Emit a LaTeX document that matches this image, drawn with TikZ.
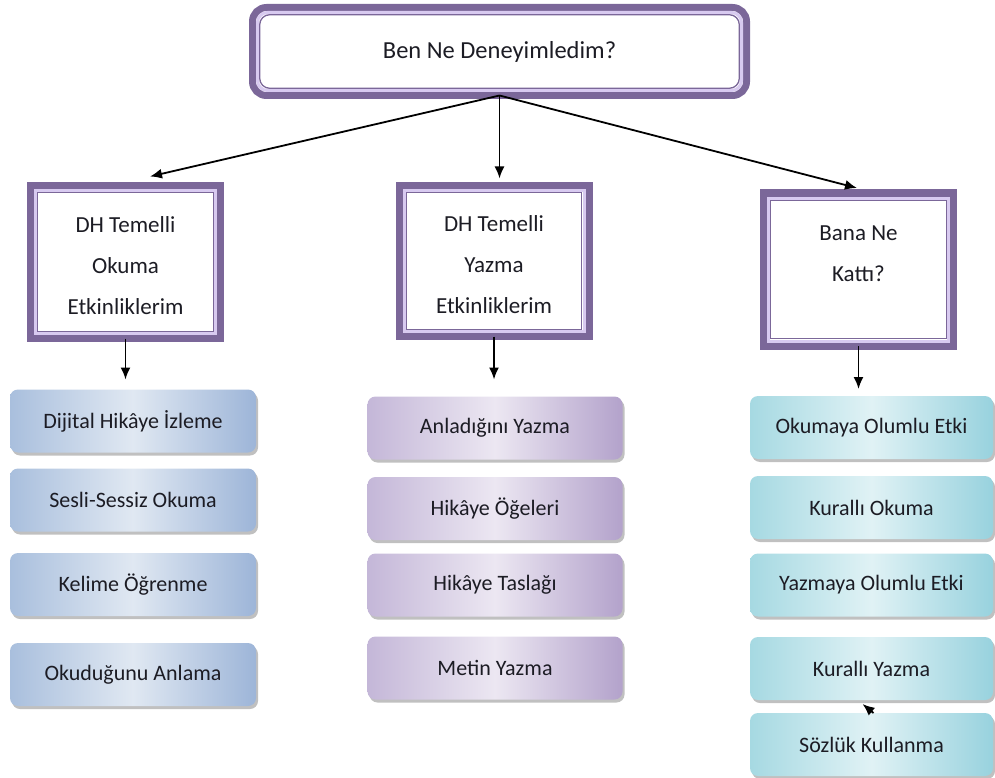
\documentclass[tikz,border=0pt]{standalone}
\usepackage{fontspec}
\setmainfont{Carlito}
\usetikzlibrary{arrows.meta,shadows}

\definecolor{pband}{HTML}{7B6799}
\definecolor{plav}{HTML}{D8CAF0}
\definecolor{txt}{HTML}{1C1C24}
\definecolor{blueA}{HTML}{A9BFDD}
\definecolor{blueB}{HTML}{E0E8F2}
\definecolor{blueC}{HTML}{9DB5D8}
\definecolor{lilaA}{HTML}{C4B7D8}
\definecolor{lilaB}{HTML}{ECE7F2}
\definecolor{lilaC}{HTML}{B3A2CB}
\definecolor{cyanA}{HTML}{A6D9E2}
\definecolor{cyanB}{HTML}{E0F2F5}
\definecolor{cyanC}{HTML}{98D2DE}

% inner lavender band and thin purple line inside a framed box
\newcommand{\insetframe}[2][0pt]{%
  \draw[line width=3, draw=plav, rounded corners=#1]
    ([shift={(5,5)}]#2.north west) rectangle ([shift={(-5,-5)}]#2.south east);
  \draw[line width=1.3, draw=pband, rounded corners=#1]
    ([shift={(7.2,7.2)}]#2.north west) rectangle ([shift={(-7.2,-7.2)}]#2.south east);}

\tikzset{
  framebox/.style={draw=pband, line width=7, fill=white, outer sep=0pt,
    inner sep=0pt, text=txt, align=center},
  headtext/.style={text=txt, align=center, font=\fontsize{23}{41}\selectfont},
  listbox/.style={rounded corners=8, minimum height=63, inner sep=0pt,
    outer sep=0pt, text=txt, font=\fontsize{22}{24}\selectfont,
    drop shadow={shadow xshift=2pt, shadow yshift=-3pt, fill=black!45, opacity=.55}},
  bluebox/.style={listbox, minimum width=246, left color=blueA, right color=blueC, middle color=blueB},
  lilabox/.style={listbox, minimum width=255, left color=lilaA, right color=lilaC, middle color=lilaB},
  cyanbox/.style={listbox, minimum width=243, left color=cyanA, right color=cyanC, middle color=cyanB},
  arr/.style={line width=1.8, black, -{Latex[length=12pt,width=10pt]}}
}

\begin{document}
\begin{tikzpicture}[x=1pt,y=-1pt]
\useasboundingbox (0,0) rectangle (995,778);

% top question
\node[framebox, rounded corners=14, minimum width=494, minimum height=88,
  font=\fontsize{24.5}{28}\selectfont] (top) at (499.5,51.5) {Ben Ne Deneyimledim?};
\insetframe[10pt]{top}

% three branches
\node[framebox, minimum width=190, minimum height=153] (L) at (125.5,262) {};
\insetframe{L}
\node[headtext] (Lt) at (125.5,266) {DH Temelli\\Okuma\\Etkinliklerim};
\node[framebox, minimum width=190, minimum height=151] (M) at (494,261) {};
\insetframe{M}
\node[headtext] (Mt) at (494,265) {DH Temelli\\Yazma\\Etkinliklerim};
\node[framebox, minimum width=190, minimum height=153] (R) at (858.5,269.5) {};
\insetframe{R}
\node[headtext] (Rt) at (858.5,254) {Bana Ne\\Katt\i?};

\draw[arr] (top.south) -- ([shift={(24.5,-9)}]L.north);
\draw[arr, shorten >=7] (top.south) -- (top.south |- M.north);
\draw[arr] (top.south) -- ([shift={(-1.5,-5)}]R.north);

% reading activities
\node[bluebox] (L1) at (133,421) {Dijital Hikâye İzleme};
\node[bluebox] (L2) at (133,500) {Sesli-Sessiz Okuma};
\node[bluebox] (L3) at (133,584.5) {Kelime Öğrenme};
\node[bluebox] (L4) at (133,674.5) {Okuduğunu Anlama};

% writing activities
\node[lilabox] (M1) at (495,428) {Anladığını Yazma};
\node[lilabox] (M2) at (495,508.5) {Hikâye Öğeleri};
\node[lilabox] (M3) at (495,585) {Hikâye Taslağı};
\node[lilabox] (M4) at (495,668) {Metin Yazma};

% gains
\node[cyanbox] (R1) at (871.5,427.5) {Okumaya Olumlu Etki};
\node[cyanbox] (R2) at (871.5,507.5) {Kurallı Okuma};
\node[cyanbox] (R3) at (871.5,585) {Yazmaya Olumlu Etki};
\node[cyanbox] (R4) at (871.5,668.5) {Kurallı Yazma};
\node[cyanbox] (R5) at (871.5,744.5) {Sözlük Kullanma};

\draw[arr, shorten >=10] (L.south) -- (L.south |- L1.north);
\draw[arr, shorten >=17] (M.south) -- (M.south |- M1.north);
\draw[arr, shorten >=7] (R.south) -- (R.south |- R1.north);
\draw[arr] ([xshift=2pt]R5.north) -- ([shift={(-9,4)}]R4.south);
\end{tikzpicture}
\end{document}
